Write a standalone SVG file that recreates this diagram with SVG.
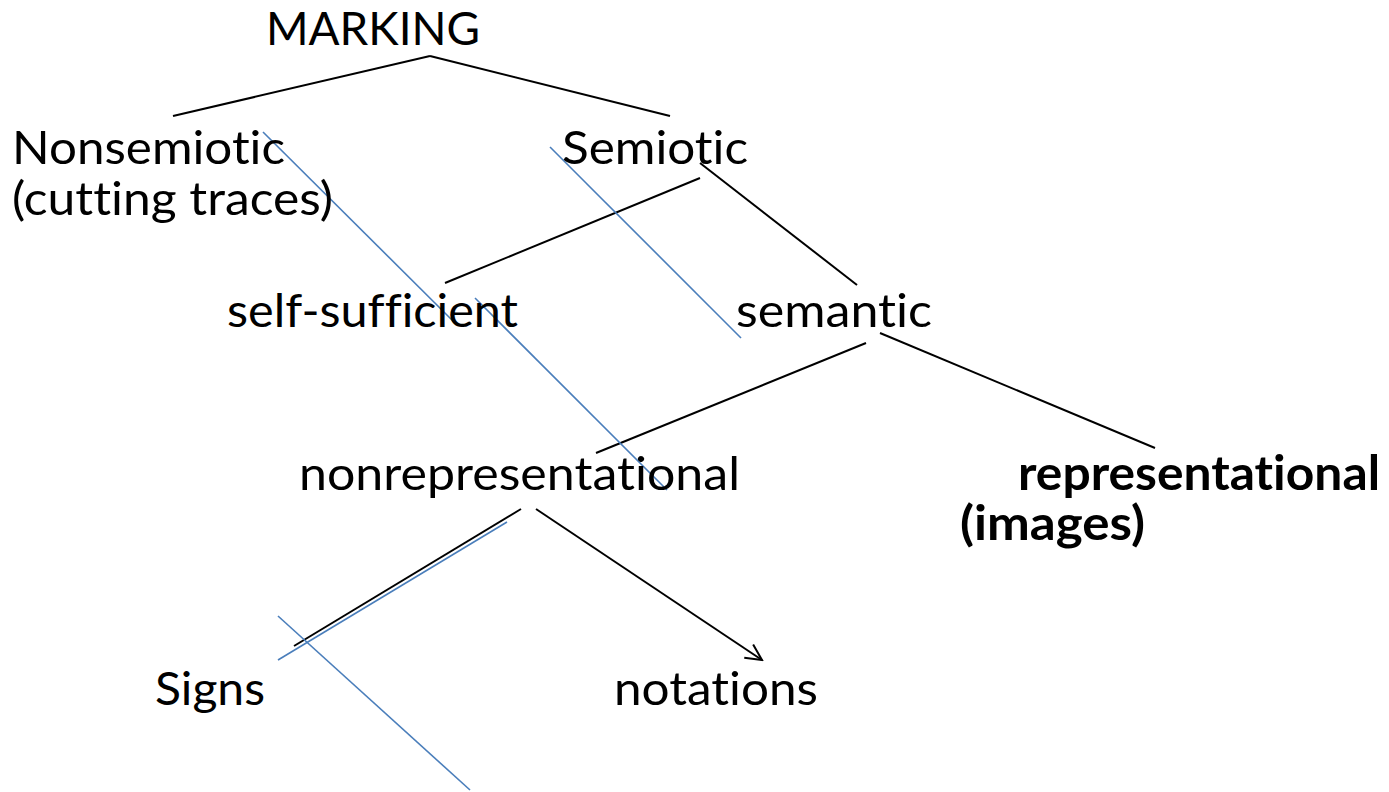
<svg xmlns="http://www.w3.org/2000/svg" width="1389" height="792" viewBox="0 0 1389 792">
<style>
text{font-family:Lato,"Open Sans","Liberation Sans",sans-serif;font-size:47px;fill:#000;font-variant-ligatures:none;font-feature-settings:"liga" 0,"clig" 0}
.b{font-weight:700}
.k{stroke:#000;stroke-width:2;fill:none}
.u{stroke:#4a7ebb;stroke-width:1.6;fill:none}
</style>
<defs>
<marker id="ah" viewBox="0 0 20 20" refX="18" refY="10" markerWidth="20" markerHeight="20" markerUnits="userSpaceOnUse" orient="auto">
<path d="M2,2 L18,10 L2,18" fill="none" stroke="#000" stroke-width="2"/>
</marker>
</defs>
<rect width="1389" height="792" fill="#fff"/>
<g id="connectors">
<line class="k" x1="430" y1="56" x2="173" y2="116"/>
<line class="k" x1="430" y1="56" x2="670" y2="116"/>
<line class="k" x1="700" y1="163" x2="857" y2="285"/>
<line class="k" x1="700" y1="178" x2="445" y2="283"/>
<line class="k" x1="866" y1="343" x2="596" y2="453"/>
<line class="k" x1="880" y1="333" x2="1155" y2="448"/>
<line class="k" x1="521" y1="509" x2="294" y2="646"/>
<line class="k" x1="536" y1="509" x2="762" y2="660" marker-end="url(#ah)"/>
<line class="u" x1="263" y1="132" x2="455" y2="323"/>
<line class="u" x1="475" y1="298" x2="667" y2="490"/>
<line class="u" x1="550" y1="147" x2="741" y2="338"/>
<line class="u" x1="278" y1="660" x2="507" y2="522"/>
<line class="u" x1="278" y1="616" x2="470" y2="790"/>
</g>
<g id="marking"><text x="266" y="45" textLength="214" lengthAdjust="spacingAndGlyphs">MARKING</text></g>
<g id="nonsemiotic"><text x="12" y="164" textLength="273" lengthAdjust="spacingAndGlyphs">Nonsemiotic</text><text x="12" y="215" textLength="321" lengthAdjust="spacingAndGlyphs">(cutting traces)</text></g>
<g id="semiotic"><text x="562" y="164" textLength="186" lengthAdjust="spacingAndGlyphs">Semiotic</text></g>
<g id="self-sufficient"><text x="227" y="327" textLength="291" lengthAdjust="spacingAndGlyphs">self-sufficient</text></g>
<g id="semantic"><text x="736" y="327" textLength="196" lengthAdjust="spacingAndGlyphs">semantic</text></g>
<g id="nonrepresentational"><text x="299" y="490" textLength="441" lengthAdjust="spacingAndGlyphs">nonrepresentational</text></g>
<g id="representational"><text class="b" x="1018" y="490" textLength="362" lengthAdjust="spacingAndGlyphs">representational</text><text class="b" x="960" y="540" textLength="185" lengthAdjust="spacingAndGlyphs">(images)</text></g>
<g id="signs"><text x="155" y="705" textLength="110" lengthAdjust="spacingAndGlyphs">Signs</text></g>
<g id="notations"><text x="614" y="705" textLength="204" lengthAdjust="spacingAndGlyphs">notations</text></g>
</svg>
